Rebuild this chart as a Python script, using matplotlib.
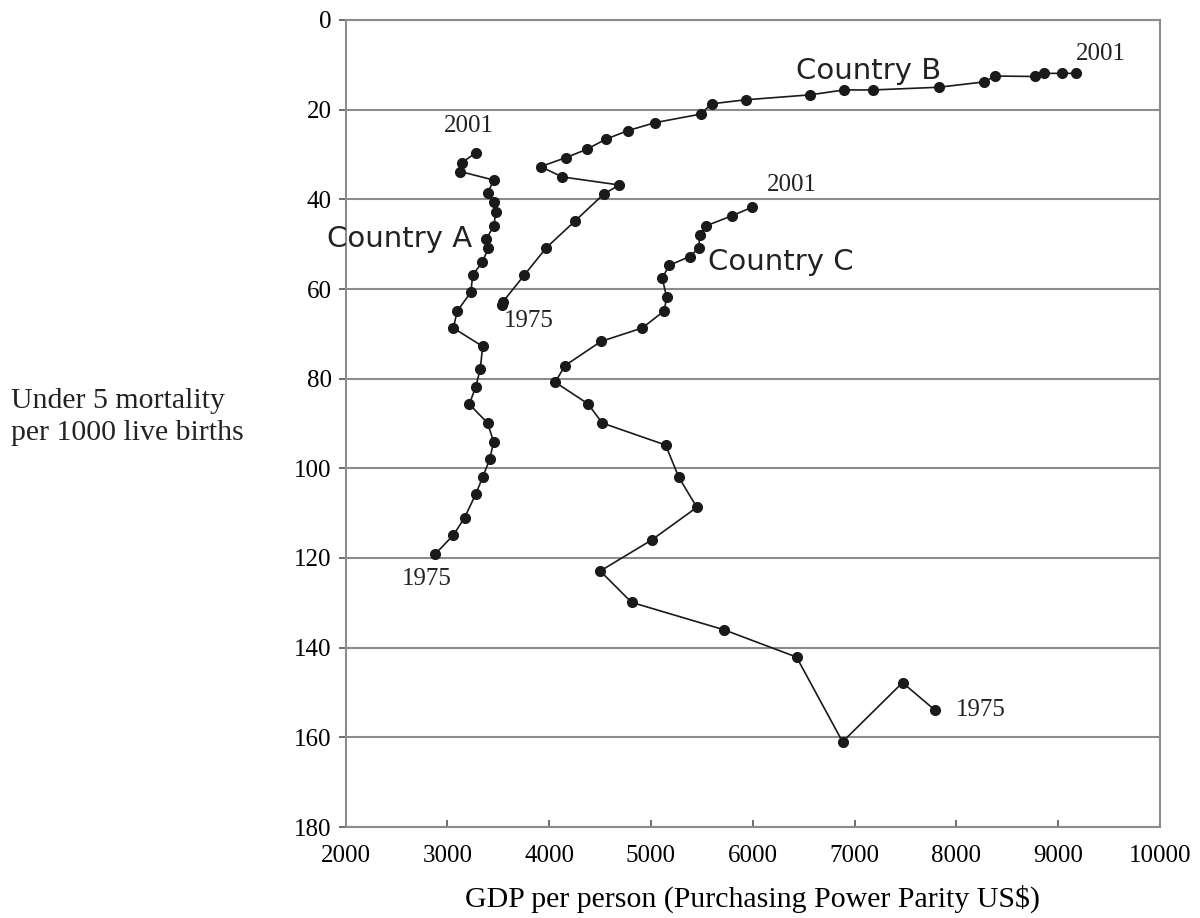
import matplotlib
matplotlib.use("Agg")
import matplotlib.pyplot as plt

# ---- data (listed 2001 first, ending at 1975) ----
a_gdp = [3281, 3144, 3128, 3455, 3396, 3455, 3475, 3458, 3380, 3403, 3344, 3249, 3232,
         3098, 3059, 3347, 3324, 3278, 3216, 3396, 3455, 3416, 3347, 3278, 3170, 3059, 2882]
a_mort = [29.6, 31.8, 33.8, 35.7, 38.6, 40.5, 42.9, 45.9, 48.9, 50.9, 54.0, 56.9, 60.7,
          64.9, 68.7, 72.8, 77.8, 81.9, 85.7, 89.9, 94.1, 98.0, 102.0, 105.8, 111.0, 114.9, 119.1]

b_gdp = [9179, 9042, 8861, 8773, 8377, 8276, 7827, 7182, 6897, 6561, 5929, 5595, 5487,
         5039, 4771, 4555, 4374, 4165, 3916, 4129, 4689, 4538, 4256, 3972, 3756, 3545, 3535]
b_mort = [11.9, 11.9, 11.9, 12.6, 12.5, 13.8, 15.0, 15.6, 15.6, 16.7, 17.8, 18.7, 21.0,
          22.9, 24.7, 26.6, 28.8, 30.7, 32.7, 35.0, 36.8, 38.8, 44.8, 50.8, 56.9, 62.9, 63.6]

c_gdp = [5991, 5792, 5543, 5481, 5468, 5379, 5179, 5111, 5154, 5130, 4914, 4509, 4155,
         4060, 4381, 4522, 5144, 5274, 5451, 5006, 4502, 4810, 5716, 6430, 6882, 7471, 7788]
c_mort = [41.8, 43.7, 45.9, 47.9, 50.9, 52.8, 54.7, 57.6, 61.8, 64.9, 68.7, 71.7, 77.1,
          80.8, 85.6, 89.9, 94.8, 102.0, 108.7, 116.0, 122.9, 129.9, 136.0, 142.1, 161.0, 147.8, 153.9]

x_ticks = [2000, 3000, 4000, 5000, 6000, 7000, 8000, 9000, 10000]
y_ticks = [0, 20, 40, 60, 80, 100, 120, 140, 160, 180]

country_labels = ["Country A", "Country B", "Country C"]
country_pos = [(1818, 50.6), (6423, 13.2), (5559, 55.7)]
year_labels = ["2001", "1975", "2001", "1975", "2001", "1975"]
year_pos = [(3208, 23.6), (2800, 124.6), (9423, 7.5), (3802, 67.2), (6389, 36.8), (8235, 154.0)]

xlabel = "GDP per person (Purchasing Power Parity US$)"
ylabel_lines = ["Under 5 mortality", "per 1000 live births"]

serif = ["Liberation Serif", "DejaVu Serif"]
sans = ["DejaVu Sans"]

fig = plt.figure(figsize=(12, 9.18), dpi=100)
ax = fig.add_axes([345.5 / 1200, 1 - 827 / 918, (1160 - 345.5) / 1200, (827 - 20) / 918])

grey = "#8c8c8c"
for gx, gy in [(a_gdp, a_mort), (b_gdp, b_mort), (c_gdp, c_mort)]:
    ax.plot(gx, gy, color="#1a1a1a", lw=1.2, marker="o", markersize=7,
            markerfacecolor="#1a1a1a", markeredgecolor="#1a1a1a", zorder=3)

ax.set_xlim(2000, 10000)
ax.set_ylim(180, 0)
ax.set_xticks(x_ticks)
ax.set_yticks(y_ticks)
ax.set_xticklabels([str(v) for v in x_ticks], fontfamily=serif, fontsize=18)
ax.set_yticklabels([str(v) for v in y_ticks], fontfamily=serif, fontsize=18)
ax.yaxis.grid(True, color=grey, lw=1.5)
ax.set_axisbelow(True)
for s in ax.spines.values():
    s.set_color(grey)
    s.set_linewidth(1.5)
ax.tick_params(axis="x", direction="in", length=5, width=1.2, color="#555555", pad=13)
ax.tick_params(axis="y", direction="out", length=5, width=1.2, color="#555555", pad=5)

ax.set_xlabel(xlabel, fontfamily=serif, fontsize=21.5, labelpad=13)

for lab, (x, y) in zip(country_labels, country_pos):
    ax.text(x, y, lab, fontfamily=sans, fontsize=21, ha="left", va="baseline",
            color="#222222", clip_on=False, zorder=4)
for lab, (x, y) in zip(year_labels, year_pos):
    ax.text(x, y, lab, fontfamily=serif, fontsize=18, ha="center", va="center",
            color="#222222", clip_on=False, zorder=4)

fig.text(11 / 1200, 1 - 407.7 / 918, ylabel_lines[0], fontfamily=serif, fontsize=21.5,
         ha="left", va="baseline", color="#222222")
fig.text(11 / 1200, 1 - 440 / 918, ylabel_lines[1], fontfamily=serif, fontsize=21.5,
         ha="left", va="baseline", color="#222222")

fig.savefig("out.png", dpi=100)
